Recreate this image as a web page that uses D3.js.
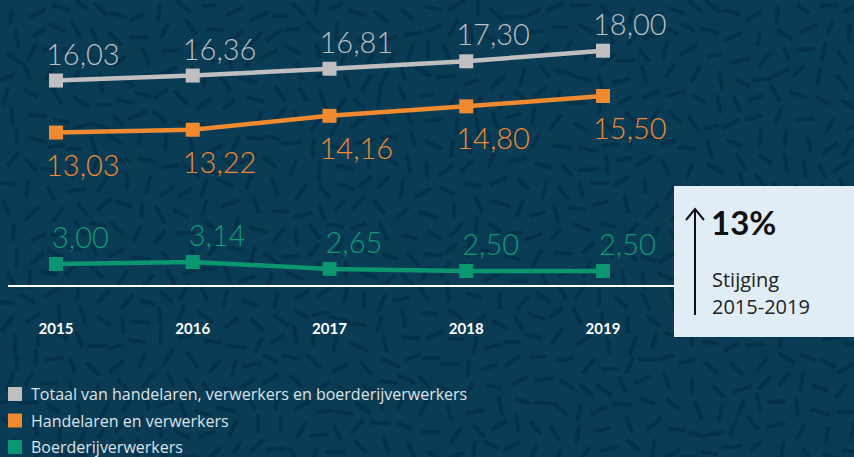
<!DOCTYPE html>
<html>
<head>
<meta charset="utf-8">
<script src="https://cdn.jsdelivr.net/npm/d3@7"></script>
<style>
  html, body { margin: 0; padding: 0; background: #0a3c55; }
  svg { display: block; font-family: Lato, "Open Sans", sans-serif; }
</style>
</head>
<body>
<div id="chart"></div>
<script>
var years = ["2015", "2016", "2017", "2018", "2019"];
var totaal = [16.03, 16.36, 16.81, 17.30, 18.00];
var handelaren = [13.03, 13.22, 14.16, 14.80, 15.50];
var boerderij = [3.00, 3.14, 2.65, 2.50, 2.50];
var legendLabels = ["Totaal van handelaren, verwerkers en boerderijverwerkers",
                    "Handelaren en verwerkers",
                    "Boerderijverwerkers"];

var width = 854, height = 457;

var svg = d3.select("#chart")
            .append("svg")
            .attr("width", width)
            .attr("height", height)

svg.append("rect")
    .attr("width", width)
    .attr("height", height)
    .attr("fill", "#0a3c55")

// decorative dash texture in the background
var bg = svg.append("g")
for (var i = 0; i < 40; i++) {
    for (var j = 0; j < 22; j++) {
        var cx = i * 22 + 11 + 6 * Math.sin(j * 1.3 + i * 0.7),
            cy = j * 22 + 11 + 6 * Math.cos(i * 1.1 + j * 0.5),
            a = 2.2 * Math.sin(i * 0.45) + 1.7 * Math.cos(j * 0.6) + 0.8 * Math.sin(i * j * 0.3),
            len = 6 + 2 * Math.abs(Math.sin(i * 2.1 + j));
        bg.append("line")
            .attr("x1", cx - len * Math.cos(a))
            .attr("y1", cy - len * Math.sin(a))
            .attr("x2", cx + len * Math.cos(a))
            .attr("y2", cy + len * Math.sin(a))
            .attr("stroke", "#06314a")
            .attr("stroke-width", 4)
            .attr("stroke-linecap", "round")
    }
}

var x = d3.scalePoint()
            .domain(years)
            .range([56, 603])

// each series sits on its own band of the infographic (broken axis)
var series = [
    {name: legendLabels[0], values: totaal, color: "#bfbfbf", text: "#bcbfc1",
     y: d3.scaleLinear().domain([16, 18]).range([81, 50.7]), dy: -16, dx: -10},
    {name: legendLabels[1], values: handelaren, color: "#f08a31", text: "#ee8a33",
     y: d3.scaleLinear().domain([13, 15.5]).range([133, 96]), dy: 43, dx: -10},
    {name: legendLabels[2], values: boerderij, color: "#0b9670", text: "#0f9a72",
     y: d3.scaleLinear().domain([2.5, 3]).range([271, 264]), dy: -16, dx: -4}
];

var fmt = d3.format(".2f");

// baseline
svg.append("line")
    .attr("x1", 8)
    .attr("x2", 676)
    .attr("y1", 286)
    .attr("y2", 286)
    .attr("stroke", "#ffffff")
    .attr("stroke-width", 2)

series.forEach(function(s) {
    var line = d3.line()
                .x((d, i) => x(years[i]))
                .y(d => s.y(d))

    svg.append("path")
        .attr("d", line(s.values))
        .attr("fill", "none")
        .attr("stroke", s.color)
        .attr("stroke-width", 4.5)

    svg.selectAll(null)
        .data(s.values)
        .enter()
        .append("rect")
        .attr("x", (d, i) => x(years[i]) - 7)
        .attr("y", d => s.y(d) - 7)
        .attr("width", 14)
        .attr("height", 14)
        .attr("fill", s.color)

    svg.selectAll(null)
        .data(s.values)
        .enter()
        .append("text")
        .attr("x", (d, i) => x(years[i]) + s.dx)
        .attr("y", d => s.y(d) + s.dy)
        .attr("fill", s.text)
        .attr("font-size", 29)
        .attr("font-weight", 300)
        .text(d => fmt(d).replace(".", ","))
})

// year labels
svg.selectAll(null)
    .data(years)
    .enter()
    .append("text")
    .attr("x", d => x(d))
    .attr("y", 334)
    .attr("text-anchor", "middle")
    .attr("fill", "#ffffff")
    .attr("font-size", 15)
    .attr("font-weight", 700)
    .text(d => d)

// legend
var legend = svg.selectAll(null)
    .data(series)
    .enter()
    .append("g")
    .attr("transform", (d, i) => "translate(8," + (387 + i * 26.5) + ")")

legend.append("rect")
    .attr("width", 14)
    .attr("height", 14)
    .attr("fill", d => d.color)

legend.append("text")
    .attr("x", 23)
    .attr("y", 13)
    .attr("fill", "#dce3e8")
    .attr("font-family", "'Open Sans', sans-serif")
    .attr("font-size", 16)
    .text(d => d.name)

// callout box
var box = svg.append("g")
box.append("rect")
    .attr("x", 674)
    .attr("y", 186)
    .attr("width", 180)
    .attr("height", 151)
    .attr("fill", "#e1edf5")

box.append("line")
    .attr("x1", 695).attr("x2", 695)
    .attr("y1", 210).attr("y2", 315)
    .attr("stroke", "#111")
    .attr("stroke-width", 2)

box.append("path")
    .attr("d", "M686,220 L695,209 L704,220")
    .attr("fill", "none")
    .attr("stroke", "#111")
    .attr("stroke-width", 2)

box.append("text")
    .attr("x", 711)
    .attr("y", 235)
    .attr("fill", "#111")
    .attr("font-size", 33)
    .attr("font-weight", 700)
    .text("13%")

box.append("text")
    .attr("x", 712)
    .attr("y", 287)
    .attr("fill", "#222")
    .attr("font-family", "'Open Sans', sans-serif")
    .attr("font-size", 20)
    .text("Stijging")

box.append("text")
    .attr("x", 712)
    .attr("y", 314)
    .attr("fill", "#222")
    .attr("font-family", "'Open Sans', sans-serif")
    .attr("font-size", 20)
    .text("2015-2019")
</script>
</body>
</html>
